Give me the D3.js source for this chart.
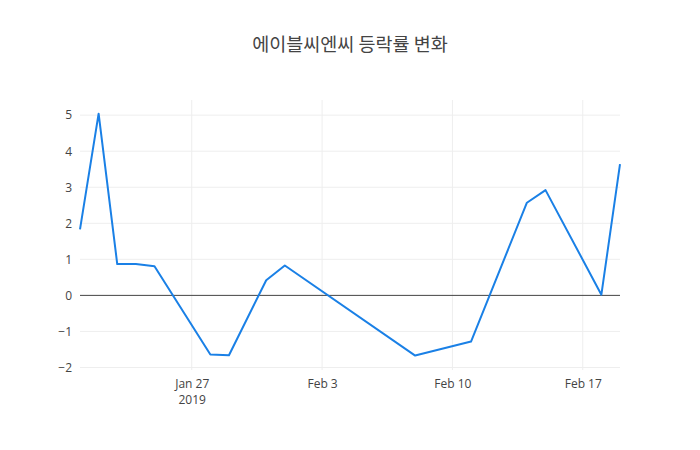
<!DOCTYPE html>
<html>
<head>
<meta charset="utf-8">
<script src="https://cdn.jsdelivr.net/npm/d3@7"></script>
<style>
  body { margin: 0; background: #fff; }
  .axis text { font-family: "Open Sans", sans-serif; font-size: 12px; fill: #444; }
  .axis path, .axis line { display: none; }
</style>
</head>
<body>
<svg width="700" height="450"></svg>
<script>
// trading days and daily change (%)
var dates = ["2019-01-21", "2019-01-22", "2019-01-23", "2019-01-24", "2019-01-25",
    "2019-01-28", "2019-01-29", "2019-01-31", "2019-02-01", "2019-02-08",
    "2019-02-11", "2019-02-14", "2019-02-15", "2019-02-18", "2019-02-19"];
var rates = [1.83, 5.04, 0.87, 0.87, 0.81,
    -1.64, -1.66, 0.42, 0.83, -1.67,
    -1.28, 2.57, 2.92, 0.02, 3.64];
var yTicks = [-2, -1, 0, 1, 2, 3, 4, 5];
var xTicks = ["2019-01-27", "2019-02-03", "2019-02-10", "2019-02-17"];
var title = "에이블씨엔씨 등락률 변화";

var parse = d3.timeParse("%Y-%m-%d");
var data = dates.map(function(d, i) {
    return { date: parse(d), value: rates[i] };
});

var svg = d3.select("svg"),
    margin = { top: 100, right: 80, bottom: 80, left: 80 },
    width = +svg.attr("width") - margin.left - margin.right,
    height = +svg.attr("height") - margin.top - margin.bottom,
    g = svg.append("g").attr("transform", "translate(" + margin.left + "," + margin.top + ")");

var x = d3.scaleTime()
    .domain([data[0].date, data[data.length - 1].date])
    .range([0, width]);

var y = d3.scaleLinear()
    .domain([-2.07, 5.42])
    .range([height, 0]);

// grid lines
g.append("g").selectAll("line")
    .data(yTicks.filter(function(d) { return d !== 0; }))
    .enter().append("line")
    .attr("x1", 0).attr("x2", width)
    .attr("y1", function(d) { return y(d); })
    .attr("y2", function(d) { return y(d); })
    .attr("stroke", "#eee");

g.append("g").selectAll("line")
    .data(xTicks)
    .enter().append("line")
    .attr("x1", function(d) { return x(parse(d)); })
    .attr("x2", function(d) { return x(parse(d)); })
    .attr("y1", 0).attr("y2", height)
    .attr("stroke", "#eee");

// zero line
g.append("line")
    .attr("x1", 0).attr("x2", width)
    .attr("y1", y(0)).attr("y2", y(0))
    .attr("stroke", "#444")
    .attr("stroke-width", 1);

// y axis
g.append("g")
    .attr("class", "axis")
    .call(d3.axisLeft(y).tickValues(yTicks).tickSize(0).tickPadding(8)
        .tickFormat(function(d) { return d < 0 ? "\u2212" + Math.abs(d) : d; }));

// x axis
var xAxis = g.append("g")
    .attr("class", "axis")
    .attr("transform", "translate(0," + height + ")")
    .call(d3.axisBottom(x).tickValues(xTicks.map(parse)).tickSize(0).tickPadding(9)
        .tickFormat(d3.timeFormat("%b %-d")));

xAxis.selectAll(".tick text")
    .filter(function(d, i) { return i === 0; })
    .append("tspan")
    .attr("x", 0)
    .attr("dy", "1.35em")
    .text("2019");

// line
var line = d3.line()
    .x(function(d) { return x(d.date); })
    .y(function(d) { return y(d.value); });

g.append("path")
    .datum(data)
    .attr("fill", "none")
    .attr("stroke", "#1a80e6")
    .attr("stroke-width", 2)
    .attr("stroke-linejoin", "round")
    .attr("d", line);

// title
svg.append("text")
    .attr("x", 350)
    .attr("y", 51)
    .attr("text-anchor", "middle")
    .style("font-family", "'Noto Sans CJK KR', 'Open Sans', sans-serif")
    .style("font-size", "18.5px")
    .style("fill", "#444")
    .text(title);
</script>
</body>
</html>
